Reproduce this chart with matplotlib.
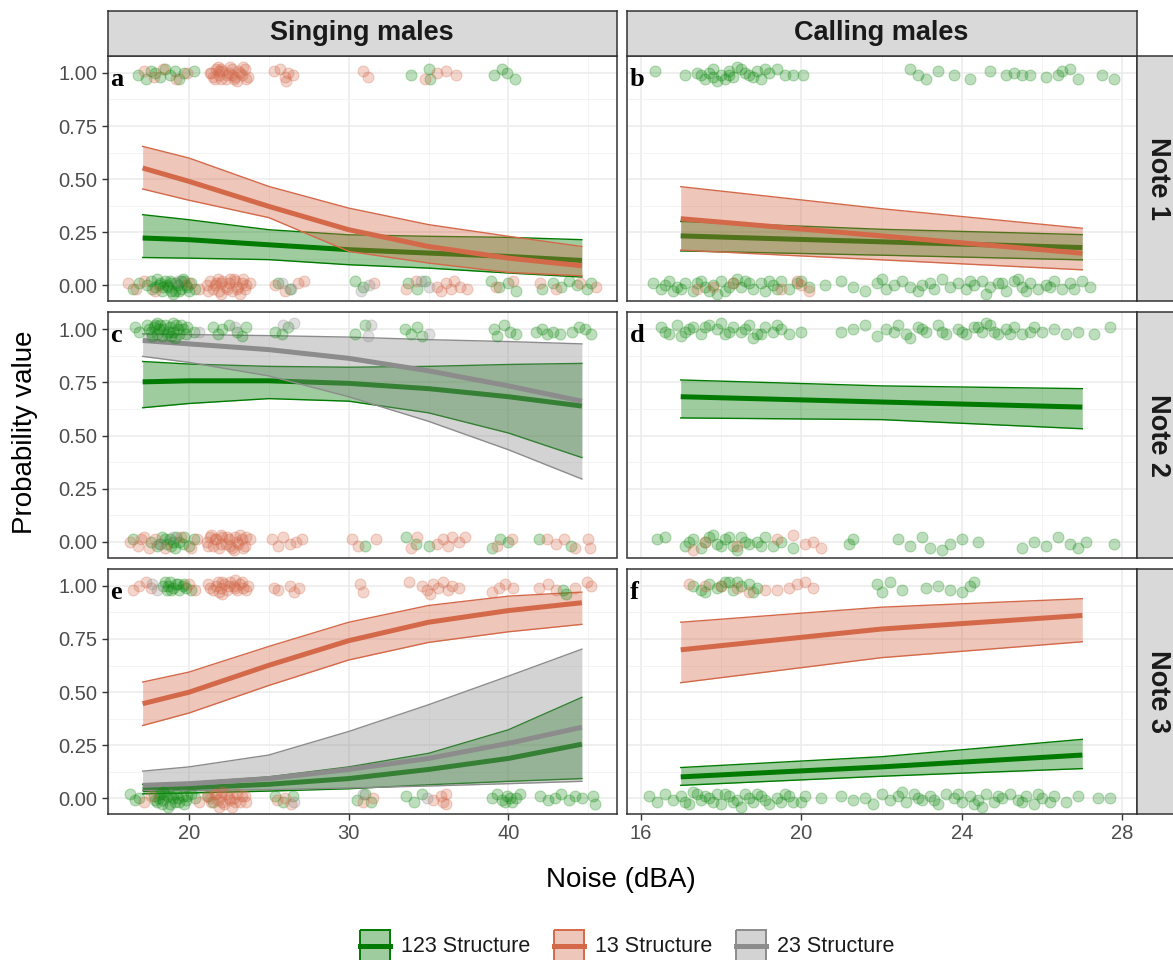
import matplotlib
matplotlib.use("Agg")
import matplotlib.pyplot as plt
from matplotlib.patches import Rectangle
from matplotlib.lines import Line2D

plt.rcParams["font.family"] = ["Liberation Sans", "DejaVu Sans"]

# ─── colours ────────────────────────────────────────────────────────────────
GREEN = "#007A00"
ORANGE = "#D4694A"
GRAY = "#8C8C8C"
COLS = {"123": GREEN, "13": ORANGE, "23": GRAY}

# ─── fitted curves ──────────────────────────────────────────────────────────
sing_x = [17.1, 20, 25, 30, 35, 40, 44.6]
call_x = [17, 22, 27]

# a: singing, note 1
a_fit_123 = [0.222, 0.214, 0.190, 0.167, 0.151, 0.135, 0.116]
a_lo_123 = [0.130, 0.127, 0.120, 0.096, 0.080, 0.057, 0.038]
a_hi_123 = [0.332, 0.308, 0.261, 0.237, 0.230, 0.225, 0.214]
a_fit_13 = [0.552, 0.489, 0.371, 0.261, 0.182, 0.127, 0.091]
a_lo_13 = [0.453, 0.400, 0.318, 0.159, 0.104, 0.060, 0.044]
a_hi_13 = [0.654, 0.599, 0.465, 0.363, 0.285, 0.230, 0.182]

# b: calling, note 1
b_fit_123 = [0.232, 0.204, 0.177]
b_lo_123 = [0.161, 0.141, 0.119]
b_hi_123 = [0.300, 0.263, 0.238]
b_fit_13 = [0.313, 0.232, 0.150]
b_lo_13 = [0.165, 0.119, 0.072]
b_hi_13 = [0.464, 0.360, 0.268]

# c: singing, note 2
c_fit_123 = [0.753, 0.758, 0.758, 0.746, 0.721, 0.683, 0.639]
c_lo_123 = [0.631, 0.651, 0.674, 0.662, 0.607, 0.512, 0.396]
c_hi_123 = [0.849, 0.837, 0.826, 0.822, 0.826, 0.835, 0.840]
c_fit_23 = [0.948, 0.932, 0.905, 0.864, 0.805, 0.734, 0.662]
c_lo_23 = [0.873, 0.845, 0.781, 0.683, 0.567, 0.433, 0.295]
c_hi_23 = [0.979, 0.976, 0.971, 0.964, 0.952, 0.943, 0.932]

# d: calling, note 2
d_fit_123 = [0.683, 0.658, 0.634]
d_lo_123 = [0.583, 0.575, 0.532]
d_hi_123 = [0.762, 0.734, 0.721]

# e: singing, note 3
e_fit_123 = [0.040, 0.048, 0.065, 0.092, 0.135, 0.187, 0.254]
e_lo_123 = [0.020, 0.024, 0.033, 0.044, 0.063, 0.079, 0.092]
e_hi_123 = [0.065, 0.073, 0.100, 0.147, 0.211, 0.322, 0.475]
e_fit_13 = [0.445, 0.499, 0.626, 0.742, 0.829, 0.884, 0.921]
e_lo_13 = [0.342, 0.401, 0.531, 0.651, 0.734, 0.784, 0.819]
e_hi_13 = [0.547, 0.594, 0.715, 0.829, 0.908, 0.952, 0.971]
e_fit_23 = [0.060, 0.068, 0.092, 0.135, 0.187, 0.258, 0.334]
e_lo_23 = [0.036, 0.036, 0.040, 0.048, 0.057, 0.068, 0.079]
e_hi_23 = [0.127, 0.147, 0.203, 0.314, 0.440, 0.575, 0.702]

# f: calling, note 3
f_fit_123 = [0.100, 0.147, 0.203]
f_lo_123 = [0.060, 0.103, 0.139]
f_hi_123 = [0.144, 0.195, 0.277]
f_fit_13 = [0.699, 0.797, 0.861]
f_lo_13 = [0.544, 0.662, 0.737]
f_hi_13 = [0.829, 0.900, 0.940]

# ─── jittered observations (noise, presence) ────────────────────────────────
a_pts_123 = [
    (16.8, 0.99), (17.3, 0.97), (17.6, 1.01), (17.9, 1.00), (18.2, 0.98), (18.5, 1.02), (18.8, 0.99),
    (19.1, 1.01), (19.4, 0.97), (19.7, 1.00), (20.3, 1.01), (33.9, 0.99), (35.0, 1.02), (35.1, 0.97),
    (39.1, 0.99), (39.6, 1.02), (39.9, 1.00), (40.4, 0.97),
    (16.5, -0.02), (16.9, 0.01), (17.6, 0.02), (17.9, -0.01), (18.1, 0.00), (18.3, -0.03), (18.5, 0.02),
    (18.7, -0.01), (18.9, 0.01), (19.1, -0.03), (19.3, 0.00), (19.5, -0.02), (19.7, 0.02), (19.9, -0.01),
    (20.1, 0.01), (20.4, -0.02), (18.0, 0.03), (19.0, -0.04), (19.6, 0.03), (25.6, 0.01), (26.3, -0.02),
    (30.4, 0.02), (30.9, -0.01), (33.7, 0.01), (34.3, -0.02), (34.8, 0.02), (38.9, 0.02), (39.4, -0.01),
    (40.0, 0.01), (40.5, -0.03), (42.1, -0.02), (42.8, 0.01), (43.3, -0.01), (43.8, 0.02), (44.3, 0.00),
    (44.9, -0.02), (45.2, 0.01),
    (17.7, -0.02), (18.2, 0.01), (18.4, -0.01), (18.6, 0.00), (18.8, 0.02), (19.2, 0.01), (19.4, -0.03),
    (19.8, 0.00), (20.0, -0.03), (18.9, -0.03), (19.5, 0.02), (17.4, 0.00),
]
a_pts_13 = [
    (17.2, 1.01), (17.8, 0.98), (18.4, 1.02), (19.2, 0.97), (19.9, 1.00), (21.3, 1.00), (21.5, 0.98),
    (21.7, 1.02), (21.9, 0.99), (22.1, 1.01), (22.3, 0.97), (22.5, 1.00), (22.7, 1.02), (22.9, 0.98),
    (23.1, 1.01), (23.3, 0.99), (23.5, 1.02), (23.7, 0.98), (22.0, 0.97), (22.6, 1.03), (23.0, 0.96),
    (21.8, 1.03), (25.3, 1.01), (25.7, 1.02), (26.0, 0.98), (26.2, 1.00), (26.5, 0.99), (26.1, 0.96),
    (30.9, 1.01), (31.2, 0.98), (34.8, 0.97), (35.5, 1.00), (36.1, 1.01), (36.7, 0.99),
    (21.4, 1.00), (21.6, 0.97), (22.0, 1.02), (22.4, 0.99), (22.8, 0.97), (23.2, 1.00), (23.6, 0.97),
    (21.9, 1.01), (22.7, 0.99), (23.4, 1.03),
    (16.2, 0.01), (16.7, -0.02), (17.2, 0.02), (17.9, -0.03), (20.0, 0.01), (20.6, -0.02), (21.1, 0.00),
    (21.3, 0.02), (21.5, -0.02), (21.7, 0.01), (21.9, -0.03), (22.1, 0.02), (22.3, -0.01), (22.5, 0.01),
    (22.7, -0.03), (22.9, 0.02), (23.1, -0.01), (23.3, 0.01), (23.5, -0.02), (23.8, 0.01), (22.0, -0.04),
    (22.8, 0.03), (25.4, 0.00), (26.0, -0.03), (26.8, 0.01), (27.2, 0.02), (31.6, 0.01), (33.6, -0.02),
    (34.2, 0.02), (35.5, -0.01), (35.8, -0.03), (36.1, 0.01), (36.4, -0.02), (36.6, 0.02), (37.0, -0.01),
    (37.4, -0.02), (39.2, -0.01), (40.3, 0.02), (42.0, 0.01), (43.0, -0.02), (44.5, 0.01), (45.5, -0.01),
    (21.2, -0.03), (21.6, 0.00), (22.0, 0.01), (22.4, -0.02), (22.6, 0.03), (23.0, -0.02), (23.4, 0.03),
    (23.6, 0.00), (21.8, 0.03), (23.2, -0.04),
]
a_pts_23 = [(19.3, 0.02), (25.8, 0.01), (26.4, -0.02), (30.8, -0.03), (31.3, 0.00), (34.5, 0.02), (35.0, -0.01)]

b_pts_123 = [
    (16.35, 1.01), (17.1, 0.99), (17.4, 1.00), (17.6, 0.97), (17.8, 1.02), (18.0, 0.99), (18.2, 1.01),
    (18.3, 0.98), (18.5, 1.02), (18.7, 0.99), (18.9, 1.01), (19.0, 0.97), (19.2, 1.00), (19.4, 1.02),
    (19.6, 0.99), (19.8, 0.99), (20.05, 0.99), (17.9, 0.96), (18.4, 1.03),
    (17.5, 0.99), (17.7, 1.00), (18.1, 0.97), (18.6, 1.00), (18.8, 0.98), (19.1, 1.02), (17.8, 0.98),
    (18.2, 0.99),
    (22.7, 1.02), (22.9, 0.99), (23.1, 0.97), (23.4, 1.01), (23.8, 0.99), (24.2, 0.97), (24.7, 1.01),
    (25.1, 0.99), (25.3, 1.00), (25.5, 0.99), (25.7, 0.99), (26.1, 0.98), (26.4, 0.99), (26.5, 1.01),
    (26.7, 1.02), (26.9, 0.97), (27.5, 0.99), (27.8, 0.97),
    (16.3, 0.01), (16.5, -0.02), (16.7, 0.02), (16.9, -0.01), (17.1, 0.01), (17.3, -0.03), (17.5, 0.02),
    (17.6, -0.01), (17.8, 0.00), (18.0, 0.02), (18.1, -0.03), (18.3, 0.01), (18.5, -0.01), (18.6, 0.02),
    (18.8, -0.02), (19.0, 0.01), (19.1, -0.03), (19.3, 0.00), (19.5, 0.02), (19.7, -0.02), (19.9, 0.01),
    (20.2, -0.01), (20.6, 0.00), (17.9, -0.04), (18.4, 0.03), (16.8, -0.03),
    (17.0, -0.02), (17.4, 0.01), (17.7, -0.03), (18.2, -0.01), (18.7, 0.01), (19.2, 0.02), (19.4, -0.02),
    (20.0, 0.02), (16.6, 0.00),
    (21.0, 0.02), (21.3, -0.01), (21.6, -0.03), (21.9, 0.01), (22.1, -0.02), (22.3, 0.00), (22.5, 0.02),
    (22.7, -0.01), (22.9, -0.03), (23.2, 0.01), (23.5, 0.03), (23.7, -0.01), (23.9, 0.01), (24.1, -0.02),
    (24.3, 0.00), (24.5, 0.02), (24.7, -0.01), (24.9, 0.01), (25.1, -0.03), (25.3, 0.02), (25.5, -0.01),
    (25.7, 0.01), (25.9, -0.02), (26.1, 0.00), (26.3, 0.02), (26.5, -0.02), (26.7, 0.01), (27.0, 0.02),
    (27.2, -0.01), (22.0, 0.03), (24.6, -0.04), (25.4, 0.03),
    (23.0, 0.00), (23.3, -0.02), (24.2, 0.02), (25.0, 0.01), (25.6, -0.03), (26.2, -0.01), (26.8, -0.02),
]
b_pts_13 = [(17.4, -0.02), (17.8, -0.01), (18.3, 0.01), (19.5, -0.02), (19.9, 0.02), (20.2, -0.03), (20.0, 0.00)]

c_pts_123 = [
    (16.6, 1.01), (16.9, 0.99), (17.4, 1.02), (17.6, 0.99), (17.8, 1.01), (18.0, 0.98), (18.2, 1.02),
    (18.4, 1.00), (18.6, 0.98), (18.8, 1.01), (19.0, 0.99), (19.2, 1.02), (19.4, 0.98), (19.6, 1.00),
    (19.9, 1.01), (20.3, 0.99), (18.3, 0.97), (19.1, 0.96),
    (17.5, 1.00), (17.7, 0.97), (17.9, 1.02), (18.1, 1.00), (18.5, 1.02), (18.7, 0.99), (18.9, 0.97),
    (19.3, 1.00), (19.5, 1.02), (19.8, 0.98), (18.0, 1.03), (19.0, 1.03),
    (21.5, 1.01), (21.8, 0.98), (22.1, 1.00),
    (22.5, 1.02), (23.0, 0.99), (23.3, 0.97), (23.6, 1.01), (25.4, 0.99), (25.8, 0.98), (26.2, 1.01),
    (30.4, 0.98), (31.0, 1.02), (33.5, 1.00), (33.9, 0.98), (34.3, 1.01), (34.6, 0.97), (39.1, 1.00),
    (39.3, 0.97), (39.7, 1.02), (40.1, 0.99), (40.5, 0.98), (41.7, 0.99), (42.1, 1.00), (42.4, 0.98),
    (42.8, 0.99), (43.2, 0.98), (44.0, 0.99), (44.4, 1.01), (44.8, 1.00), (45.2, 0.98),
    (16.5, 0.01), (17.6, 0.00), (18.0, -0.02), (18.3, 0.02), (18.6, -0.01), (18.8, 0.01), (19.1, -0.03),
    (19.4, 0.00), (19.7, 0.02), (20.0, -0.02), (20.3, 0.01), (18.2, -0.01), (18.5, 0.01), (18.9, -0.02),
    (19.2, 0.02), (19.6, -0.01), (19.0, 0.00),
    (31.0, -0.02), (33.6, 0.02), (34.2, -0.01), (35.0, -0.02), (39.0, -0.03), (39.5, 0.01), (40.0, 0.00),
    (41.9, 0.01), (43.9, -0.02),
]
c_pts_13 = [
    (16.3, 0.00), (16.8, -0.02), (17.2, 0.02), (17.5, -0.03), (17.9, 0.01), (19.5, 0.02), (20.1, -0.03),
    (17.0, 0.01), (18.5, -0.03), (20.5, 0.01),
    (21.1, 0.00), (21.3, 0.02), (21.5, -0.02), (21.7, 0.01), (21.9, -0.03), (22.1, 0.02), (22.3, -0.01),
    (22.5, 0.01), (22.7, -0.03), (22.9, 0.02), (23.1, -0.01), (23.3, 0.01), (23.5, -0.02), (23.8, 0.01),
    (22.0, 0.03), (22.8, -0.04), (21.2, -0.02), (21.6, 0.01), (22.0, -0.01), (22.4, 0.02), (22.6, -0.02),
    (23.0, 0.00), (23.4, -0.03), (23.6, 0.02), (21.4, 0.03), (23.2, 0.03),
    (25.2, 0.01), (25.6, -0.02), (25.9, 0.02), (26.3, -0.01), (26.7, 0.00),
    (27.1, 0.01), (30.2, 0.01), (30.6, -0.02), (31.7, 0.01), (33.9, -0.03), (34.3, 0.02), (35.5, -0.01),
    (35.9, 0.01), (36.2, -0.02), (36.5, 0.02), (36.9, 0.00), (37.3, 0.02), (39.3, -0.02), (40.2, 0.01),
    (42.4, 0.01), (43.0, -0.01), (43.5, 0.01), (44.2, -0.03), (45.0, 0.01), (45.1, -0.03),
]
c_pts_23 = [(20.6, 0.99), (22.9, 1.01), (25.9, 1.02), (26.6, 1.03), (31.2, 0.97), (31.4, 1.02), (35.0, 0.98),
            (18.1, -0.01), (19.0, 0.02)]

d_pts_123 = [
    (16.5, 1.01), (16.7, 0.98), (16.9, 1.02), (17.1, 0.99), (17.3, 1.01), (17.5, 0.98), (17.7, 1.02),
    (17.9, 1.00), (18.1, 0.98), (18.3, 1.01), (18.5, 0.99), (18.7, 1.02), (18.9, 0.98), (19.1, 1.01),
    (19.3, 0.99), (19.5, 1.00), (19.7, 0.98), (20.0, 0.99), (17.0, 0.97), (18.0, 1.03), (18.8, 0.96),
    (16.6, 0.99), (17.2, 1.00), (17.6, 1.01), (18.2, 0.99), (18.6, 1.00), (19.0, 0.98), (19.4, 1.02),
    (21.0, 0.99), (21.3, 1.00), (21.6, 1.02), (21.9, 0.97), (22.1, 1.00), (22.4, 1.02), (22.6, 0.98),
    (22.9, 1.01), (23.1, 0.99), (23.4, 1.02), (23.6, 0.98), (23.9, 1.00), (24.1, 0.98), (24.3, 1.01),
    (24.5, 0.99), (24.7, 1.02), (24.9, 0.98), (25.1, 1.00), (25.3, 1.01), (25.5, 0.98), (25.8, 1.01),
    (26.0, 0.99), (26.3, 1.00), (26.6, 0.98), (26.9, 0.99), (27.3, 0.98), (27.7, 1.01), (22.7, 0.96),
    (24.6, 1.03), (23.0, 1.00), (24.0, 0.99), (24.4, 1.01), (24.8, 0.99), (25.2, 0.98), (25.7, 0.99),
    (23.5, 0.99), (22.3, 0.99),
    (16.4, 0.01), (16.6, 0.02), (17.1, -0.02), (17.3, 0.01), (17.5, -0.03), (17.7, 0.02), (17.9, -0.01),
    (18.1, 0.01), (18.3, -0.02), (18.5, 0.02), (18.7, -0.01), (18.9, 0.00), (19.1, 0.02), (19.3, -0.02),
    (19.5, 0.00), (19.8, -0.03), (17.8, 0.03), (18.4, -0.04), (17.2, 0.00), (17.6, 0.00), (18.0, -0.02),
    (18.6, 0.00), (19.0, -0.02), (18.2, 0.02),
    (21.2, -0.01), (21.3, 0.01), (22.4, 0.01),
    (22.7, -0.02), (23.0, 0.02), (23.2, -0.03), (23.5, -0.04), (23.7, -0.01), (24.0, 0.01), (24.4, 0.00),
    (25.5, -0.03), (25.8, 0.00), (26.1, -0.02), (26.4, 0.02), (26.7, -0.01), (26.9, -0.03), (27.1, 0.00),
    (27.8, -0.01),
]
d_pts_13 = [(17.3, -0.04), (17.6, 0.00), (18.4, -0.02), (19.4, 0.01), (19.8, 0.03), (20.1, -0.01),
            (20.5, -0.03), (20.3, 0.00)]

e_pts_123 = [
    (18.4, 1.00), (18.6, 0.98), (18.8, 1.02), (19.0, 0.99), (19.2, 1.01), (19.4, 0.98), (19.6, 1.00),
    (19.8, 0.99), (20.1, 0.98), (18.5, 1.02), (18.9, 0.98), (19.3, 1.01), (19.7, 1.01), (18.7, 1.00),
    (43.4, 0.98), (43.6, 0.96),
    (16.3, 0.02), (16.6, -0.01), (16.9, 0.00), (17.8, 0.01), (18.0, -0.02), (18.2, 0.02), (18.4, -0.01),
    (18.6, 0.01), (18.8, -0.03), (19.0, 0.00), (19.2, 0.02), (19.4, -0.02), (19.6, 0.01), (19.8, -0.01),
    (20.1, 0.02), (20.4, 0.00), (18.7, -0.04), (17.9, -0.01), (18.1, 0.00), (18.3, -0.03), (18.5, 0.02),
    (18.9, 0.01), (19.1, -0.02), (19.3, 0.00), (19.7, -0.03), (19.9, 0.01), (18.4, 0.03),
    (21.2, 0.01), (21.5, -0.02), (25.4, 0.01), (25.9, -0.02),
    (26.5, 0.01), (30.5, -0.01), (31.0, 0.02), (31.4, -0.02), (33.6, 0.01), (34.1, -0.02), (34.6, 0.02),
    (39.0, 0.00), (39.3, 0.02), (39.6, -0.01), (39.9, 0.01), (40.2, -0.02), (40.5, 0.00), (40.7, 0.02),
    (39.8, -0.02), (40.1, 0.00),
    (42.0, 0.01), (42.5, -0.01), (42.9, 0.00), (43.3, 0.02), (43.8, -0.01), (44.2, 0.01), (44.6, 0.00),
    (45.3, 0.01), (45.4, -0.03),
]
e_pts_13 = [
    (16.5, 0.98), (16.9, 1.00), (17.3, 1.02), (17.6, 0.99), (20.0, 1.01), (20.4, 0.98), (21.2, 1.01),
    (21.5, 0.98), (21.8, 1.02), (22.0, 0.99), (22.2, 1.01), (22.4, 0.98), (22.6, 1.02), (22.8, 1.00),
    (23.0, 0.98), (23.2, 1.01), (23.4, 0.99), (23.7, 1.00), (22.1, 0.96), (22.9, 1.03),
    (21.3, 0.99), (21.7, 1.00), (22.1, 1.02), (22.5, 1.00), (22.9, 0.99), (23.3, 1.02), (23.6, 0.98),
    (21.9, 0.97), (25.3, 0.99),
    (25.6, 0.98), (26.3, 1.00), (26.6, 0.97), (26.9, 0.99), (30.7, 1.01), (30.9, 0.97), (33.8, 1.02),
    (34.6, 1.00), (34.9, 0.98), (35.3, 1.01), (35.6, 0.99), (35.9, 1.02), (36.2, 0.98), (36.5, 1.00),
    (36.9, 0.99), (35.1, 0.96), (39.0, 0.97), (39.4, 0.99), (39.8, 1.01), (40.3, 0.99), (41.9, 0.99),
    (42.5, 1.01), (43.0, 0.98), (44.2, 0.99), (44.9, 1.02), (45.2, 1.00),
    (17.2, -0.02), (17.6, 0.01), (20.6, -0.02), (21.1, 0.01), (21.4, -0.02), (21.6, 0.02), (21.8, -0.01),
    (22.0, 0.01), (22.2, -0.03), (22.4, 0.02), (22.6, -0.01), (22.8, 0.00), (23.0, 0.02), (23.2, -0.02),
    (23.5, 0.01), (22.1, 0.03), (22.7, -0.04), (21.3, 0.00), (21.7, 0.02), (22.1, -0.02), (22.5, 0.00),
    (22.9, -0.02), (23.3, 0.01), (23.6, -0.02), (21.9, -0.04),
    (25.5, -0.01), (26.0, 0.00), (26.4, -0.03), (30.9, -0.02),
    (31.5, 0.00), (35.3, -0.01), (35.8, 0.01), (36.1, -0.03), (35.9, -0.02), (36.1, 0.02),
]
e_pts_23 = [(17.7, 1.01), (18.0, 0.98), (26.6, -0.02), (30.9, 0.02), (34.9, 0.00)]

f_pts_123 = [
    (17.3, 1.00), (17.5, 0.98), (17.7, 1.01), (17.9, 0.99), (18.1, 1.02), (18.3, 0.98), (18.5, 1.00),
    (18.7, 1.01), (18.9, 0.99), (17.6, 0.97), (18.2, 1.02), (18.0, 1.00), (18.4, 1.02), (18.8, 0.97),
    (21.9, 1.01), (22.0, 0.97), (22.2, 1.02),
    (22.5, 0.98), (23.1, 0.99), (23.4, 1.00), (23.7, 0.98), (24.0, 0.97), (24.2, 1.00), (24.3, 1.02),
    (16.2, 0.01), (16.4, -0.02), (16.6, 0.02), (16.8, -0.01), (17.0, 0.01), (17.2, -0.03), (17.4, 0.02),
    (17.5, -0.01), (17.7, 0.00), (17.9, 0.02), (18.0, -0.03), (18.2, 0.01), (18.4, -0.01), (18.6, 0.02),
    (18.8, -0.02), (19.0, 0.01), (19.2, -0.03), (19.4, 0.00), (19.6, 0.02), (19.8, -0.02), (20.1, 0.01),
    (17.3, 0.03), (18.5, -0.04), (17.1, -0.02), (17.6, 0.01), (17.8, -0.02), (18.1, 0.02), (18.3, -0.02),
    (18.7, 0.00), (18.9, 0.02), (19.1, -0.01), (19.5, -0.02), (19.7, 0.01), (20.5, 0.00), (20.0, -0.02),
    (21.0, 0.01), (21.3, -0.01), (21.6, 0.00), (21.8, -0.03), (22.0, 0.02),
    (22.2, -0.01), (22.4, 0.01), (22.6, -0.02), (22.8, 0.02), (23.0, -0.01), (23.2, 0.01), (23.4, -0.03),
    (23.6, 0.02), (23.8, 0.00), (24.0, -0.02), (24.2, 0.01), (24.4, -0.01), (24.6, 0.02), (24.8, -0.02),
    (25.0, 0.00), (25.2, 0.02), (25.4, -0.01), (25.6, 0.01), (25.8, -0.03), (26.0, 0.00), (26.3, 0.01),
    (26.6, -0.02), (26.9, 0.01), (27.4, 0.00), (27.7, 0.00), (22.5, 0.03), (24.5, -0.04),
    (22.9, 0.00), (23.3, -0.01), (23.9, 0.02), (24.3, -0.03), (24.9, 0.01), (25.5, -0.02), (25.9, 0.02),
    (26.2, -0.02),
]
f_pts_13 = [(17.2, 1.01), (17.6, 1.00), (18.0, 1.00), (18.4, 0.99), (18.7, 0.97), (19.1, 0.98), (19.4, 0.98),
            (19.7, 0.99), (19.9, 1.01), (20.1, 1.02), (20.3, 0.99)]

col_titles = ["Singing males", "Calling males"]
row_titles = ["Note 1", "Note 2", "Note 3"]
panel_letters = [["a", "b"], ["c", "d"], ["e", "f"]]
legend_labels = ["123 Structure", "13 Structure", "23 Structure"]

# ─── figure layout (pixel boxes) ────────────────────────────────────────────
W, H = 1173, 960
fig = plt.figure(figsize=(W / 100, H / 100), dpi=100)


def px_axes(left, top, right, bottom):
    return fig.add_axes([left / W, 1 - bottom / H, (right - left) / W, (bottom - top) / H])


cols_px = [(107.5, 617), (626.5, 1136.5)]
rows_px = [(56, 301), (312.5, 557.5), (569, 814)]
xlims = [(14.9, 46.8), (15.65, 28.35)]
xmajor = [[20, 30, 40], [16, 20, 24, 28]]
xminor = [[15, 25, 35, 45], [18, 22, 26]]

curves = [
    [[(sing_x, a_fit_123, a_lo_123, a_hi_123, "123"), (sing_x, a_fit_13, a_lo_13, a_hi_13, "13")],
     [(call_x, b_fit_123, b_lo_123, b_hi_123, "123"), (call_x, b_fit_13, b_lo_13, b_hi_13, "13")]],
    [[(sing_x, c_fit_123, c_lo_123, c_hi_123, "123"), (sing_x, c_fit_23, c_lo_23, c_hi_23, "23")],
     [(call_x, d_fit_123, d_lo_123, d_hi_123, "123")]],
    [[(sing_x, e_fit_123, e_lo_123, e_hi_123, "123"), (sing_x, e_fit_13, e_lo_13, e_hi_13, "13"),
      (sing_x, e_fit_23, e_lo_23, e_hi_23, "23")],
     [(call_x, f_fit_123, f_lo_123, f_hi_123, "123"), (call_x, f_fit_13, f_lo_13, f_hi_13, "13")]],
]
points = [
    [[(a_pts_123, "123"), (a_pts_13, "13"), (a_pts_23, "23")], [(b_pts_123, "123"), (b_pts_13, "13")]],
    [[(c_pts_123, "123"), (c_pts_13, "13"), (c_pts_23, "23")], [(d_pts_123, "123"), (d_pts_13, "13")]],
    [[(e_pts_123, "123"), (e_pts_13, "13"), (e_pts_23, "23")], [(f_pts_123, "123"), (f_pts_13, "13")]],
]

for r, (top, bot) in enumerate(rows_px):
    for c, (left, right) in enumerate(cols_px):
        ax = px_axes(left, top, right, bot)
        ax.set_xlim(*xlims[c])
        ax.set_ylim(-0.075, 1.08)
        ax.set_xticks(xmajor[c])
        ax.set_xticks(xminor[c], minor=True)
        ax.set_yticks([0, 0.25, 0.5, 0.75, 1.0])
        ax.set_yticks([0.125, 0.375, 0.625, 0.875], minor=True)
        ax.grid(which="major", color="#EBEBEB", lw=1.1)
        ax.grid(which="minor", color="#F2F2F2", lw=0.6)
        ax.set_axisbelow(True)
        for s in ax.spines.values():
            s.set_color("#333333")
            s.set_linewidth(1.1)
        ax.tick_params(which="minor", length=0)
        ax.tick_params(which="major", length=4, width=1, color="#333333",
                       labelsize=14.5, labelcolor="#4D4D4D")
        if r < 2:
            ax.tick_params(axis="x", labelbottom=False, length=0)
        if c == 1:
            ax.tick_params(axis="y", labelleft=False, length=0)
        ax.set_yticklabels(["0.00", "0.25", "0.50", "0.75", "1.00"])

        for xs, fit, lo, hi, g in curves[r][c]:
            col = COLS[g]
            ax.fill_between(xs, lo, hi, color=col, alpha=0.38, lw=0, zorder=2)
            ax.plot(xs, lo, color=col, lw=1.0, zorder=2)
            ax.plot(xs, hi, color=col, lw=1.0, zorder=2)
            ax.plot(xs, fit, color=col, lw=3.6, zorder=2, solid_capstyle="butt")

        for pts, g in points[r][c]:
            px = [p[0] for p in pts]
            py = [p[1] for p in pts]
            ax.scatter(px, py, s=62, color=COLS[g] if g != "123" else "#118A11",
                       alpha=0.28, lw=0.8, zorder=3)

        ax.text(0.006, 0.905, panel_letters[r][c], transform=ax.transAxes, ha="left", va="center",
                fontsize=19, fontweight="bold", family=["Liberation Serif", "DejaVu Serif"], zorder=5)

# strips on top
for c, (left, right) in enumerate(cols_px):
    sax = px_axes(left, 10.5, right, 55.5)
    sax.set_xticks([])
    sax.set_yticks([])
    sax.set_facecolor("#D9D9D9")
    for s in sax.spines.values():
        s.set_color("#333333")
        s.set_linewidth(1.1)
    sax.text(0.5, 0.5, col_titles[c], ha="center", va="center", fontsize=19.5,
             fontweight="bold", color="#1A1A1A", transform=sax.transAxes)

# strips on the right (cut by the image edge)
for r, (top, bot) in enumerate(rows_px):
    sax = px_axes(1136.5, top, 1185, bot)
    sax.set_xticks([])
    sax.set_yticks([])
    sax.set_facecolor("#D9D9D9")
    for s in sax.spines.values():
        s.set_color("#333333")
        s.set_linewidth(1.1)
    fig.text(1158 / W, 1 - (top + bot) / 2 / H, row_titles[r], rotation=-90, ha="center", va="center",
             fontsize=19.5, fontweight="bold", color="#1A1A1A")

# axis titles
fig.text(25 / W, 1 - 432 / H, "Probability value", rotation=90, ha="center", va="center", fontsize=20)
fig.text(621 / W, 1 - 880 / H, "Noise (dBA)", ha="center", va="center", fontsize=20)

# legend drawn in pixel space
lax = fig.add_axes([0, 0, 1, 1], facecolor="none")
lax.set_xlim(0, W)
lax.set_ylim(H, 0)
lax.axis("off")
key_x = [360, 554, 736]
for kx, lab, g in zip(key_x, legend_labels, ["123", "13", "23"]):
    col = COLS[g]
    lax.add_patch(Rectangle((kx, 930), 30, 34, facecolor=col, alpha=0.38, edgecolor="none"))
    lax.add_patch(Rectangle((kx, 930), 30, 34, facecolor="none", edgecolor=col, lw=1.4))
    lax.add_line(Line2D([kx, kx + 30], [946, 946], color=col, lw=3.6))
    lax.text(kx + 41, 946, lab, ha="left", va="center", fontsize=15.5, color="#1A1A1A")

fig.savefig("out.png", dpi=100)
